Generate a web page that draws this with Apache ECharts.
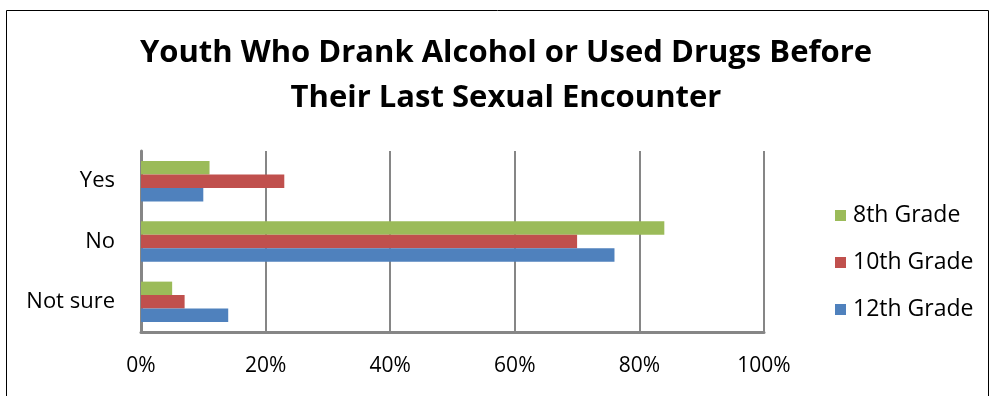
<!DOCTYPE html>
<html><head><meta charset="utf-8">
<script src="https://cdn.jsdelivr.net/npm/echarts@6/dist/echarts.min.js"></script>
<style>html,body{margin:0;padding:0;background:#fff}#c{width:995px;height:396px}</style>
</head><body><div id="c"></div>
<script>
const categories = ['Yes', 'No', 'Not sure'];
const grade8 = [11, 84, 5];
const grade10 = [23, 70, 7];
const grade12 = [10, 76, 14];
const seriesNames = ['8th Grade', '10th Grade', '12th Grade'];
const colors = ['#9BBB59', '#C0504D', '#4F81BD'];
const xTicks = [0, 20, 40, 60, 80, 100];

const FONT = 'Open Sans';
const chart = echarts.init(document.getElementById('c'), null, {renderer: 'canvas'});
const data = [grade8, grade10, grade12];
chart.setOption({
  animation: false,
  backgroundColor: '#fff',
  graphic: [{type: 'rect', shape: {x: 6.5, y: 10.5, width: 982, height: 400}, style: {fill: 'none', stroke: '#000', lineWidth: 1}}],
  title: {
    text: 'Youth Who Drank Alcohol or Used Drugs Before\nTheir Last Sexual Encounter',
    left: 501, top: 26, textAlign: 'center',
    textStyle: {fontFamily: FONT, fontWeight: 'bold', fontSize: 31, lineHeight: 45, color: '#000'}
  },
  legend: {
    orient: 'vertical', left: 830, top: 199, itemGap: 24,
    itemWidth: 11, itemHeight: 11, icon: 'rect',
    textStyle: {fontFamily: FONT, fontSize: 23, color: '#000', padding: [0, 0, 0, 2]},
    data: seriesNames
  },
  grid: {left: 141, right: 231, top: 151, bottom: 64, containLabel: false},
  xAxis: {
    type: 'value', min: xTicks[0], max: xTicks[xTicks.length - 1], interval: 20,
    axisLabel: {formatter: v => v + '%', fontFamily: FONT, fontSize: 21, color: '#000', margin: 24},
    axisLine: {show: true, lineStyle: {color: '#868686', width: 3}},
    axisTick: {show: false},
    splitLine: {show: true, lineStyle: {color: '#868686', width: 2}}
  },
  yAxis: {
    type: 'category', data: categories, inverse: true,
    axisLabel: {fontFamily: FONT, fontSize: 22, color: '#000', margin: 26},
    axisLine: {show: true, lineStyle: {color: '#868686', width: 3}},
    axisTick: {show: false}
  },
  series: seriesNames.map((n, i) => ({
    name: n, type: 'bar', data: data[i], barGap: '0%', barCategoryGap: '33%',
    itemStyle: {color: colors[i]}
  }))
});
</script></body></html>
